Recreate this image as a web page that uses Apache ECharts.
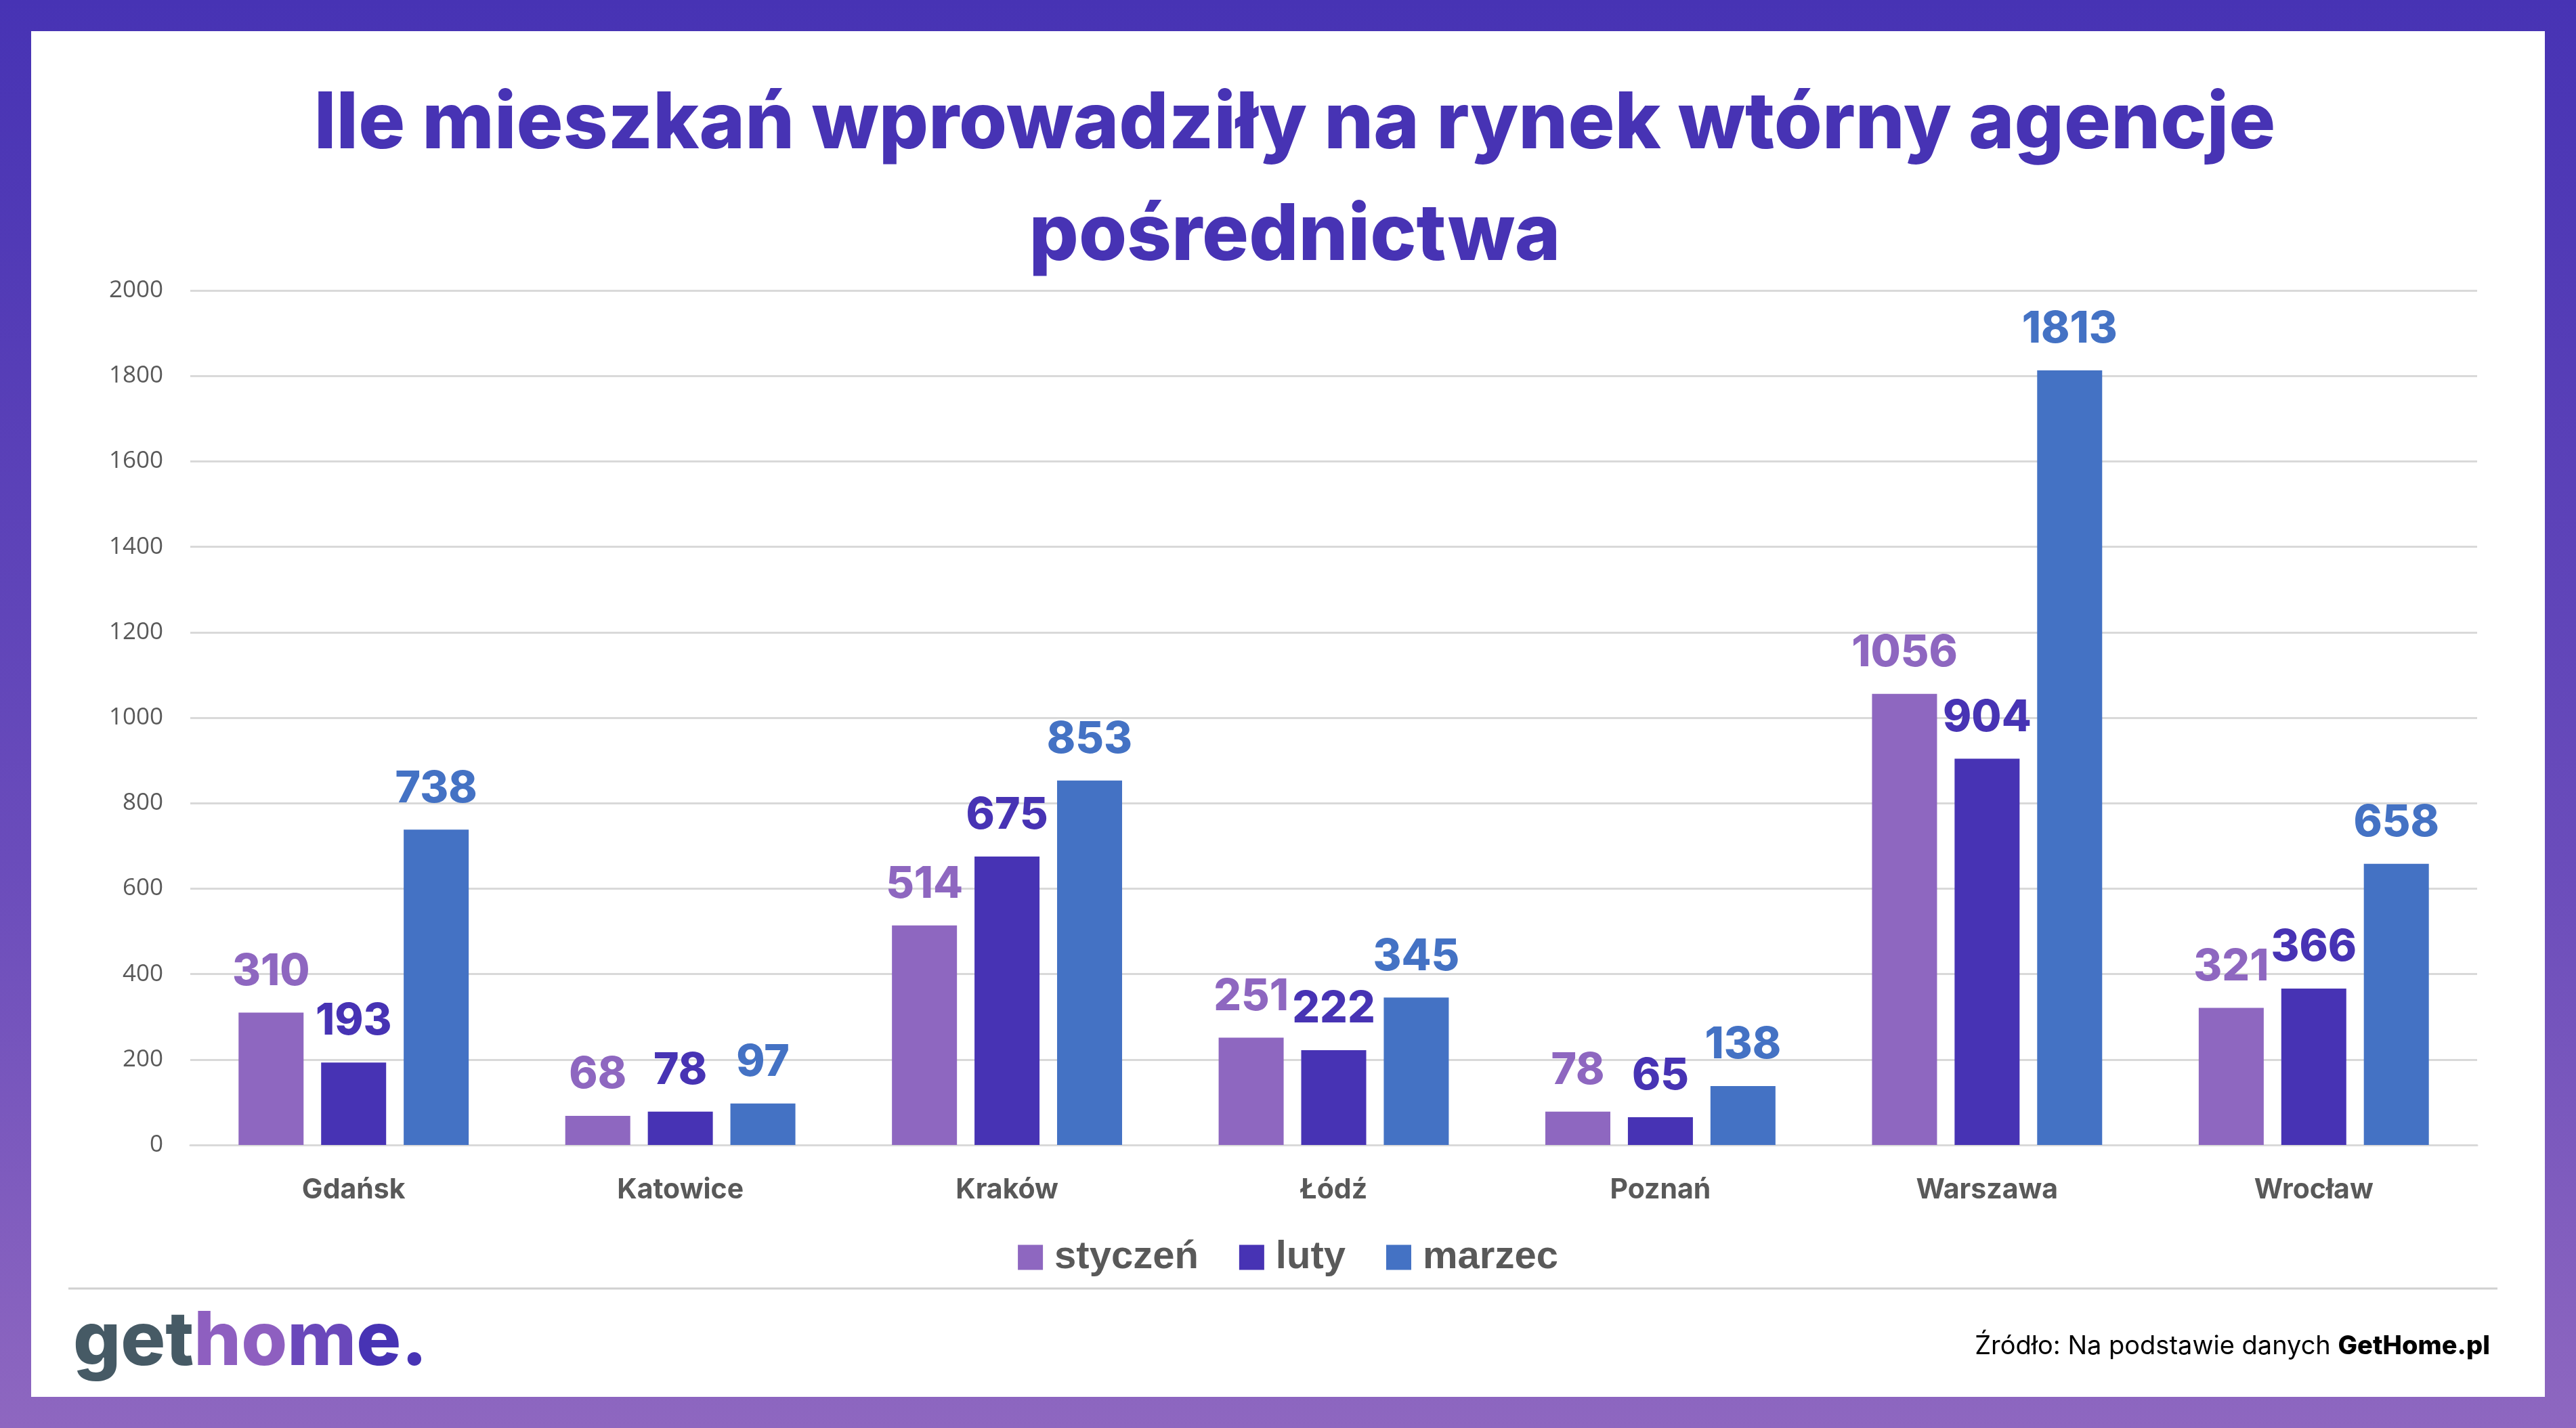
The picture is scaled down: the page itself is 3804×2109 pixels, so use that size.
<!DOCTYPE html>
<html>
<head>
<meta charset="utf-8">
<script src="https://cdn.jsdelivr.net/npm/echarts@6/dist/echarts.min.js"></script>
<style>
  html, body { margin: 0; padding: 0; }
  body {
    width: 3804px; height: 2109px; position: relative; overflow: hidden;
    background: linear-gradient(to bottom, #4733b4 0%, #6a4cbb 60%, #8e67c0 100%);
  }
  #paper { position: absolute; left: 46px; top: 46px; width: 3712px; height: 2017px; background: #fff; }
  #main { position: absolute; left: 0; top: 0; width: 3804px; height: 2109px; }
</style>
</head>
<body>
<div id="paper"></div>
<div id="main"></div>
<script>
// dane
var miasta = ['Gdańsk', 'Katowice', 'Kraków', 'Łódź', 'Poznań', 'Warszawa', 'Wrocław'];
var styczen = [310, 68, 514, 251, 78, 1056, 321];
var luty = [193, 78, 675, 222, 65, 904, 366];
var marzec = [738, 97, 853, 345, 138, 1813, 658];
var osY = [0, 200, 400, 600, 800, 1000, 1200, 1400, 1600, 1800, 2000];

var kolory = ['#8e67c0', '#4733b4', '#4472c4'];

var myChart = echarts.init(document.getElementById('main'));

function seria(nazwa, dane, kolor) {
	return {
		type: 'bar',
		name: nazwa,
		data: dane,
		barWidth: 96,
		barGap: '27%',
		itemStyle: { color: kolor },
		label: {
			show: true,
			position: 'top',
			distance: 28,
			color: kolor,
			fontFamily: 'Inter',
			fontWeight: 800,
			fontSize: 64
		}
	};
}

var option = {
	backgroundColor: 'transparent',
	animation: false,
	grid: {
		left: 281,
		right: 146,
		top: 429,
		bottom: 418
	},
	legend: {
		data: ['styczeń', 'luty', 'marzec'],
		left: 'center',
		top: 1823,
		itemWidth: 37,
		itemHeight: 37,
		itemGap: 60,
		icon: 'rect',
		textStyle: {
			color: '#595959',
			fontFamily: 'Liberation Sans',
			fontWeight: 'bold',
			fontSize: 58,
			padding: [0, 0, 0, 12]
		}
	},
	xAxis: {
		type: 'category',
		data: miasta,
		axisTick: { show: false },
		axisLine: { show: true, lineStyle: { color: '#d9d9d9', width: 3 } },
		axisLabel: {
			margin: 46,
			color: '#595959',
			fontFamily: 'Inter',
			fontWeight: 700,
			fontSize: 41
		}
	},
	yAxis: {
		type: 'value',
		min: osY[0],
		max: osY[osY.length - 1],
		interval: osY[1] - osY[0],
		axisLine: { show: false },
		axisTick: { show: false },
		splitLine: { lineStyle: { color: '#d9d9d9', width: 3 } },
		axisLabel: {
			margin: 40,
			color: '#595959',
			fontFamily: 'Open Sans',
			fontSize: 35,
			formatter: function (v) { return String(v); }
		}
	},
	series: [
		seria('styczeń', styczen, kolory[0]),
		seria('luty', luty, kolory[1]),
		seria('marzec', marzec, kolory[2])
	],
	graphic: [
		{
			// tytul
			type: 'text',
			x: 1912,
			y: 102,
			style: {
				text: 'Ile mieszkań wprowadziły na rynek wtórny agencje\npośrednictwa',
				textAlign: 'center',
				fill: '#4733b4',
				fontFamily: 'Inter',
				fontWeight: 800,
				fontSize: 115,
				lineHeight: 165
			}
		},
		{
			type: 'line',
			shape: { x1: 101, y1: 1903, x2: 3688, y2: 1903 },
			style: { stroke: '#d0d0d0', lineWidth: 3 }
		},
		{
			// logo
			type: 'text',
			left: 108,
			top: 1928,
			style: {
				text: '{a|get}{b|ho}{c|m}{d|e.}',
				rich: {
					a: { fill: '#465a65', fontFamily: 'Inter', fontWeight: 800, fontSize: 110 },
					b: { fill: '#8e5fc0', fontFamily: 'Inter', fontWeight: 800, fontSize: 110 },
					c: { fill: '#6a48bb', fontFamily: 'Inter', fontWeight: 800, fontSize: 110 },
					d: { fill: '#4733b4', fontFamily: 'Inter', fontWeight: 800, fontSize: 110 }
				}
			}
		},
		{
			// zrodlo
			type: 'text',
			right: 3804 - 3677,
			top: 1970,
			style: {
				text: '{r|Źródło: Na podstawie danych }{b|GetHome.pl}',
				rich: {
					r: { fill: '#000', fontFamily: 'Inter', fontWeight: 400, fontSize: 38 },
					b: { fill: '#000', fontFamily: 'Inter', fontWeight: 800, fontSize: 38 }
				}
			}
		}
	]
};

myChart.setOption(option);
</script>
</body>
</html>
